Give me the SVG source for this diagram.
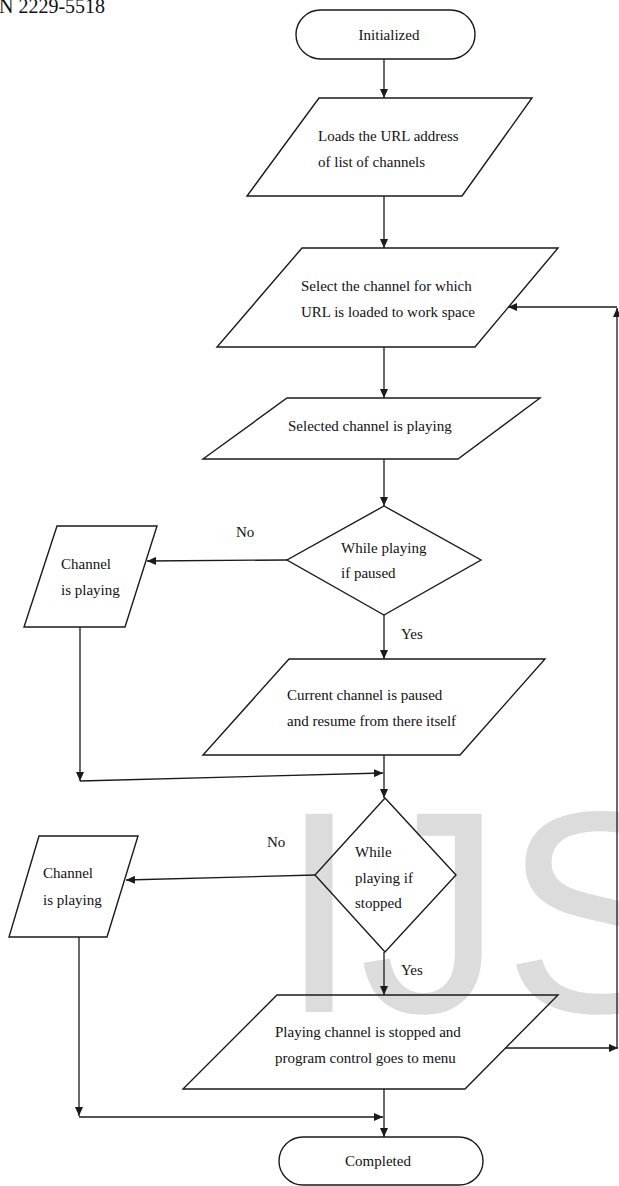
<svg xmlns="http://www.w3.org/2000/svg" width="619" height="1186" viewBox="0 0 619 1186">
<style>
  .shape { fill: none; stroke: #1a1a1a; stroke-width: 1.4; }
  .conn { fill: none; stroke: #1a1a1a; stroke-width: 1.3; }
  .t { font-family: "Liberation Serif", "Times New Roman", serif; font-size: 15px; fill: #111; }
  .c { text-anchor: middle; }
  .wm { font-family: "Liberation Sans", Arial, sans-serif; font-size: 288px; fill: #dcdcdc; }
  .hdr { font-family: "Liberation Serif", "Times New Roman", serif; font-size: 20px; fill: #111; }
</style>
<defs>
  <marker id="arr" markerUnits="userSpaceOnUse" markerWidth="10" markerHeight="8" refX="9" refY="4" orient="auto">
    <path d="M0,0 L9,4 L0,8 z" fill="#1a1a1a"/>
  </marker>
</defs>
<rect x="0" y="0" width="619" height="1186" fill="#ffffff"/>
<text class="wm" x="279" y="1012">IJS</text>
<text class="hdr" x="-1" y="13">N 2229-5518</text>

<g id="connectors">
  <line class="conn" x1="384" y1="59" x2="384" y2="98" marker-end="url(#arr)"/>
  <line class="conn" x1="384" y1="196" x2="384" y2="248" marker-end="url(#arr)"/>
  <line class="conn" x1="384" y1="347" x2="384" y2="398" marker-end="url(#arr)"/>
  <line class="conn" x1="384" y1="459" x2="384" y2="506" marker-end="url(#arr)"/>
  <line class="conn" x1="287" y1="560" x2="147" y2="561" marker-end="url(#arr)"/>
  <line class="conn" x1="384" y1="615" x2="384" y2="659" marker-end="url(#arr)"/>
  <line class="conn" x1="80" y1="627" x2="80" y2="781" marker-end="url(#arr)"/>
  <line class="conn" x1="80" y1="781" x2="383" y2="773" marker-end="url(#arr)"/>
  <line class="conn" x1="384" y1="755" x2="384" y2="798" marker-end="url(#arr)"/>
  <line class="conn" x1="315" y1="875" x2="126" y2="880" marker-end="url(#arr)"/>
  <line class="conn" x1="384" y1="952" x2="384" y2="995" marker-end="url(#arr)"/>
  <line class="conn" x1="79" y1="937" x2="79" y2="1116" marker-end="url(#arr)"/>
  <line class="conn" x1="79" y1="1117" x2="383" y2="1117" marker-end="url(#arr)"/>
  <line class="conn" x1="384" y1="1089" x2="384" y2="1137" marker-end="url(#arr)"/>
  <line class="conn" x1="506" y1="1048" x2="618" y2="1048" marker-end="url(#arr)"/>
  <line class="conn" x1="617" y1="1048" x2="617" y2="308" marker-end="url(#arr)"/>
  <line class="conn" x1="617" y1="307" x2="508" y2="307" marker-end="url(#arr)"/>
  <text class="t" x="236" y="537">No</text>
  <text class="t" x="401" y="639">Yes</text>
  <text class="t" x="267" y="847">No</text>
  <text class="t" x="401" y="975">Yes</text>
</g>

<g id="start">
  <rect class="shape" x="296" y="10" width="179" height="49" rx="24.5"/>
  <text class="t c" x="389" y="40">Initialized</text>
</g>
<g id="load-url">
  <polygon class="shape" points="319,98 532,98 462,196 247,196"/>
  <text class="t" x="318" y="141">Loads the URL address</text>
  <text class="t" x="318" y="167">of list of channels</text>
</g>
<g id="select-channel">
  <polygon class="shape" points="302,248 558,248 475,347 217,347"/>
  <text class="t" x="301" y="291">Select the channel for which</text>
  <text class="t" x="301" y="317">URL is loaded to work space</text>
</g>
<g id="playing">
  <polygon class="shape" points="287,398 540,398 458,459 203,459"/>
  <text class="t" x="288" y="431">Selected channel  is playing</text>
</g>
<g id="if-paused">
  <polygon class="shape" points="384,506 481,560 384,615 287,560"/>
  <text class="t" x="341" y="553">While playing</text>
  <text class="t" x="341" y="578">if paused</text>
</g>
<g id="channel-playing-1">
  <polygon class="shape" points="57,526 157,526 125,627 24,627"/>
  <text class="t" x="61" y="569">Channel</text>
  <text class="t" x="61" y="595">is playing</text>
</g>
<g id="paused">
  <polygon class="shape" points="289,659 545,659 460,755 203,755"/>
  <text class="t" x="287" y="700">Current channel is paused</text>
  <text class="t" x="287" y="726">and resume from there itself</text>
</g>
<g id="if-stopped">
  <polygon class="shape" points="385,798 456,875 385,952 315,875"/>
  <text class="t" x="355" y="857">While</text>
  <text class="t" x="355" y="883">playing if</text>
  <text class="t" x="355" y="908">stopped</text>
</g>
<g id="channel-playing-2">
  <polygon class="shape" points="39,836 138,836 107,937 9,937"/>
  <text class="t" x="43" y="878">Channel</text>
  <text class="t" x="43" y="905">is playing</text>
</g>
<g id="stopped">
  <polygon class="shape" points="277,995 558,995 465,1089 183,1089"/>
  <text class="t" x="275" y="1037">Playing channel is stopped and</text>
  <text class="t" x="275" y="1063">program control goes to menu</text>
</g>
<g id="end">
  <rect class="shape" x="279" y="1137" width="204" height="48" rx="24"/>
  <text class="t c" x="378" y="1166">Completed</text>
</g>
</svg>
